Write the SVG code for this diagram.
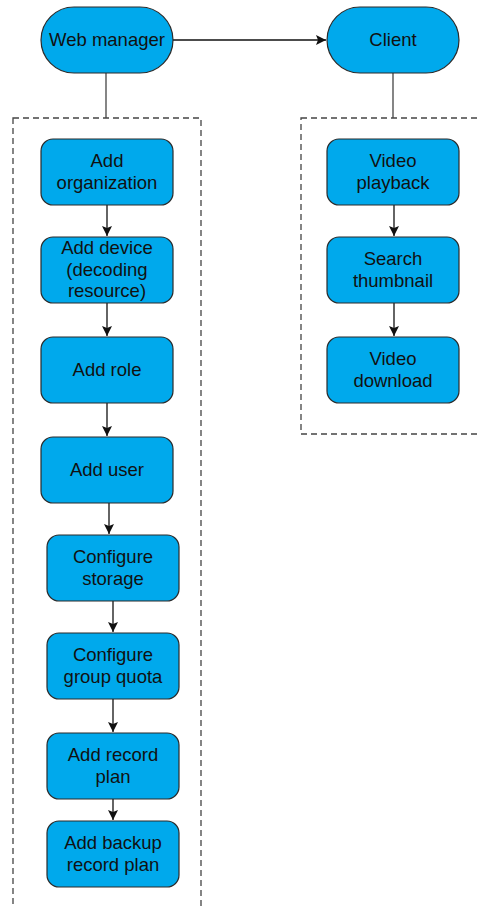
<svg xmlns="http://www.w3.org/2000/svg" width="478" height="906" viewBox="0 0 478 906">
<style>
.n{fill:#00a9ec;stroke:#2b2b2b;stroke-width:1.2}
.t{font-family:"Liberation Sans",Arial,sans-serif;font-size:18.5px;fill:#111;text-anchor:middle}
.c{fill:none;stroke:#111;stroke-width:1.3}
.l{fill:none;stroke:#444;stroke-width:1.3}
.d{fill:none;stroke:#444;stroke-width:1.3;stroke-dasharray:6 4}
</style>
<defs>
<marker id="ah" markerWidth="12" markerHeight="12" refX="10" refY="6" orient="auto" markerUnits="userSpaceOnUse">
<path d="M0,1 L10,6 L0,11 L2,6 Z" fill="#111"/>
</marker>
</defs>
<g id="groups">
<rect class="d" x="13" y="118" width="188" height="800"/>
<rect class="d" x="301" y="118" width="190" height="316"/>
</g>
<g id="connectors">
<path class="c" d="M173,40 H326" marker-end="url(#ah)"/>
<path class="l" d="M106,73 V118"/>
<path class="l" d="M393,73 V118"/>
<path class="c" d="M107,205 V236" marker-end="url(#ah)"/>
<path class="c" d="M107,303 V336" marker-end="url(#ah)"/>
<path class="c" d="M107,403 V436" marker-end="url(#ah)"/>
<path class="c" d="M109,503 V534" marker-end="url(#ah)"/>
<path class="c" d="M113,601 V632" marker-end="url(#ah)"/>
<path class="c" d="M113,699 V732" marker-end="url(#ah)"/>
<path class="c" d="M113,799 V820" marker-end="url(#ah)"/>
<path class="c" d="M394,205 V236" marker-end="url(#ah)"/>
<path class="c" d="M394,303 V336" marker-end="url(#ah)"/>
</g>
<g id="web-manager"><rect class="n" x="41" y="7" width="132" height="66" rx="33"/><text class="t" x="107" y="46">Web manager</text></g>
<g id="client"><rect class="n" x="327" y="7" width="132" height="66" rx="33"/><text class="t" x="393" y="46">Client</text></g>
<g id="add-organization"><rect class="n" x="41" y="139" width="132" height="66" rx="12"/><text class="t" x="107" y="167">Add</text><text class="t" x="107" y="189">organization</text></g>
<g id="add-device"><rect class="n" x="41" y="237" width="132" height="66" rx="12"/><text class="t" x="107" y="254">Add device</text><text class="t" x="107" y="276">(decoding</text><text class="t" x="107" y="297">resource)</text></g>
<g id="add-role"><rect class="n" x="41" y="337" width="132" height="66" rx="12"/><text class="t" x="107" y="376">Add role</text></g>
<g id="add-user"><rect class="n" x="41" y="437" width="132" height="66" rx="12"/><text class="t" x="107" y="476">Add user</text></g>
<g id="configure-storage"><rect class="n" x="47" y="535" width="132" height="66" rx="12"/><text class="t" x="113" y="563">Configure</text><text class="t" x="113" y="585">storage</text></g>
<g id="configure-group-quota"><rect class="n" x="47" y="633" width="132" height="66" rx="12"/><text class="t" x="113" y="661">Configure</text><text class="t" x="113" y="683">group quota</text></g>
<g id="add-record-plan"><rect class="n" x="47" y="733" width="132" height="66" rx="12"/><text class="t" x="113" y="761">Add record</text><text class="t" x="113" y="783">plan</text></g>
<g id="add-backup-record-plan"><rect class="n" x="47" y="821" width="132" height="66" rx="12"/><text class="t" x="113" y="849">Add backup</text><text class="t" x="113" y="871">record plan</text></g>
<g id="video-playback"><rect class="n" x="327" y="139" width="132" height="66" rx="12"/><text class="t" x="393" y="167">Video</text><text class="t" x="393" y="189">playback</text></g>
<g id="search-thumbnail"><rect class="n" x="327" y="237" width="132" height="66" rx="12"/><text class="t" x="393" y="265">Search</text><text class="t" x="393" y="287">thumbnail</text></g>
<g id="video-download"><rect class="n" x="327" y="337" width="132" height="66" rx="12"/><text class="t" x="393" y="365">Video</text><text class="t" x="393" y="387">download</text></g>
</svg>
